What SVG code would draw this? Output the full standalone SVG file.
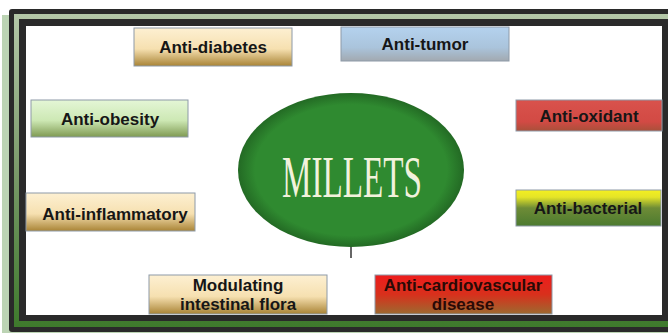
<svg xmlns="http://www.w3.org/2000/svg" width="668" height="333" viewBox="0 0 668 333">
<defs>
<linearGradient id="gTan" x1="0" y1="0" x2="0" y2="1">
<stop offset="0" stop-color="#fdf0d2"/><stop offset="0.55" stop-color="#f6e0b0"/><stop offset="1" stop-color="#a98436"/>
</linearGradient>
<linearGradient id="gGreen" x1="0" y1="0" x2="0" y2="1">
<stop offset="0" stop-color="#e4f6d6"/><stop offset="0.55" stop-color="#cde8b4"/><stop offset="1" stop-color="#7f9a52"/>
</linearGradient>
<linearGradient id="gBlue" x1="0" y1="0" x2="0" y2="1">
<stop offset="0" stop-color="#b4d2ee"/><stop offset="0.6" stop-color="#aac4dc"/><stop offset="1" stop-color="#a2a9b0"/>
</linearGradient>
<linearGradient id="gRed" x1="0" y1="0" x2="0" y2="1">
<stop offset="0" stop-color="#d9524c"/><stop offset="0.7" stop-color="#d24a44"/><stop offset="1" stop-color="#a8503a"/>
</linearGradient>
<linearGradient id="gYel" x1="0" y1="0" x2="0" y2="1">
<stop offset="0" stop-color="#f4f020"/><stop offset="0.2" stop-color="#e4e428"/><stop offset="0.5" stop-color="#6e8c36"/><stop offset="1" stop-color="#4c7a30"/>
</linearGradient>
<linearGradient id="gCard" x1="0" y1="0" x2="0" y2="1">
<stop offset="0" stop-color="#ee1c1c"/><stop offset="0.5" stop-color="#d8301c"/><stop offset="1" stop-color="#9c6a30"/>
</linearGradient>
<radialGradient id="gEll" cx="0.5" cy="0.5" r="0.5">
<stop offset="0.85" stop-color="#2f8a30"/><stop offset="1" stop-color="#236a24"/>
</radialGradient>
<linearGradient id="gBand" x1="0" y1="0" x2="0" y2="1">
<stop offset="0" stop-color="#b4c8a8"/><stop offset="0.5" stop-color="#7a9a6a"/><stop offset="1" stop-color="#3e7a2c"/>
</linearGradient>
</defs>
<style>
.box{stroke:#8d9aa8;stroke-width:1}
.lbl{font-family:"Liberation Sans",Arial,sans-serif;font-weight:bold;font-size:17px;fill:#161616;text-anchor:middle}
</style>
<rect width="668" height="333" fill="#ffffff"/>
<g id="frame">
<rect x="2" y="15" width="670" height="318" fill="#bcd4b4"/>
<rect x="9" y="9" width="670" height="323" rx="3" fill="#2a2a2a"/>
<rect x="14" y="14" width="660" height="313" fill="url(#gBand)"/>
<rect x="19" y="19" width="649" height="302" fill="#2a2a2a"/>
<rect x="26" y="26" width="636" height="289" fill="#ffffff"/>
</g>
<g id="millets">
<ellipse cx="351" cy="170" rx="113" ry="77" fill="url(#gEll)"/>
<line x1="351" y1="247" x2="351" y2="258" stroke="#333" stroke-width="1.5"/>
<text x="352" y="197" font-family="Liberation Serif,'Times New Roman',serif" font-size="60" fill="#f2f2dc" text-anchor="middle" textLength="140" lengthAdjust="spacingAndGlyphs">MILLETS</text>
</g>
<g id="anti-diabetes">
<rect class="box" x="134" y="28" width="158" height="38" fill="url(#gTan)"/>
<text class="lbl" x="213" y="53">Anti-diabetes</text>
</g>
<g id="anti-tumor">
<rect class="box" x="341" y="27" width="168" height="34" fill="url(#gBlue)"/>
<text class="lbl" x="425" y="50">Anti-tumor</text>
</g>
<g id="anti-obesity">
<rect class="box" x="31" y="100" width="157" height="37" fill="url(#gGreen)"/>
<text class="lbl" x="110" y="125">Anti-obesity</text>
</g>
<g id="anti-oxidant">
<rect class="box" x="516" y="100" width="146" height="31" fill="url(#gRed)"/>
<text class="lbl" x="589" y="122">Anti-oxidant</text>
</g>
<g id="anti-inflammatory">
<rect class="box" x="26" y="193" width="169" height="38" fill="url(#gTan)"/>
<text class="lbl" x="115" y="220">Anti-inflammatory</text>
</g>
<g id="anti-bacterial">
<rect class="box" x="516" y="190" width="145" height="36" fill="url(#gYel)"/>
<text class="lbl" x="588" y="214">Anti-bacterial</text>
</g>
<g id="modulating-intestinal-flora">
<rect class="box" x="149" y="275" width="178" height="39" fill="url(#gTan)"/>
<text class="lbl" x="238" y="291">Modulating</text>
<text class="lbl" x="238" y="310">intestinal flora</text>
</g>
<g id="anti-cardiovascular-disease">
<rect class="box" x="375" y="275" width="177" height="39" fill="url(#gCard)"/>
<text class="lbl" x="463" y="291" style="fill:#2a0a06">Anti-cardiovascular</text>
<text class="lbl" x="463" y="310" style="fill:#2a0a06">disease</text>
</g>
<g id="connectors"></g>
</svg>
